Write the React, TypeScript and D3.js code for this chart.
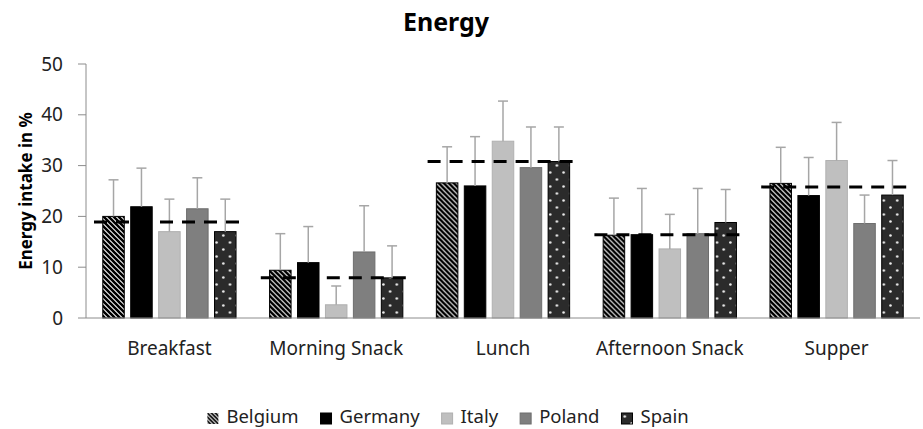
import * as d3 from "d3";

const WIDTH = 923;
const HEIGHT = 429;
const MARGIN = { top: 64, right: 3, bottom: 111, left: 86 };
const FONT = "'Noto Sans', 'Open Sans', sans-serif";

const CATEGORIES = ["Breakfast", "Morning Snack", "Lunch", "Afternoon Snack", "Supper"];
const COUNTRIES = ["Belgium", "Germany", "Italy", "Poland", "Spain"];

// mean energy intake (%) per meal, one array per country
const BELGIUM = [20.0, 9.4, 26.6, 16.3, 26.5];
const GERMANY = [21.9, 10.9, 26.0, 16.4, 24.1];
const ITALY = [17.0, 2.6, 34.8, 13.6, 31.0];
const POLAND = [21.5, 13.0, 29.6, 16.6, 18.6];
const SPAIN = [17.0, 7.9, 30.8, 18.8, 24.2];

// upper error bar (SD) per meal
const BELGIUM_SD = [7.2, 7.2, 7.1, 7.3, 7.1];
const GERMANY_SD = [7.6, 7.1, 9.7, 9.1, 7.5];
const ITALY_SD = [6.4, 3.7, 7.9, 6.8, 7.5];
const POLAND_SD = [6.1, 9.1, 8.0, 8.9, 5.6];
const SPAIN_SD = [6.4, 6.3, 6.8, 6.5, 6.8];

// overall mean across the five countries (dashed line)
const OVERALL = [18.9, 7.9, 30.8, 16.4, 25.8];

const Y_TICKS = [0, 10, 20, 30, 40, 50];

const VALUES = [BELGIUM, GERMANY, ITALY, POLAND, SPAIN];
const SDS = [BELGIUM_SD, GERMANY_SD, ITALY_SD, POLAND_SD, SPAIN_SD];

const FILLS = ["url(#stripes)", "#000000", "#bfbfbf", "#7f7f7f", "url(#dots)"];
const STROKES = ["#000000", "#000000", "#b0b0b0", "#6e6e6e", "#000000"];

const INNER_W = WIDTH - MARGIN.left - MARGIN.right;
const INNER_H = HEIGHT - MARGIN.top - MARGIN.bottom;

function measure(text: string, font: string): number {
  const ctx = document.createElement("canvas").getContext("2d");
  if (!ctx) return text.length * 10;
  ctx.font = font;
  return ctx.measureText(text).width;
}

export default function App() {
  const x0 = d3.scaleBand<string>().domain(CATEGORIES).range([0, INNER_W]).padding(0);
  const x1 = d3
    .scaleBand<string>()
    .domain(COUNTRIES)
    .range([0, x0.bandwidth()])
    .paddingInner(0.23)
    .paddingOuter(0.6);
  const y = d3.scaleLinear().domain([0, 50]).range([INNER_H, 0]);

  // legend layout from measured text widths
  const legendSize = 18.5;
  const legendFont = `${legendSize}px ${FONT}`;
  const SW = 11;
  const items = COUNTRIES.map((c) => ({ c, w: SW + 8 + measure(c, legendFont) }));
  const GAP = 22;
  const total = d3.sum(items, (d) => d.w) + GAP * (items.length - 1);
  let cursor = 448 - total / 2;
  const legend = items.map((d) => {
    const pos = { ...d, x: cursor };
    cursor += d.w + GAP;
    return pos;
  });

  return (
    <svg
      width={WIDTH}
      height={HEIGHT}
      style={{ position: "absolute", left: 0, top: 0, background: "#fff" }}
      fontFamily={FONT}
    >
      <defs>
        <pattern id="stripes" patternUnits="userSpaceOnUse" width="5" height="5">
          <rect width="5" height="5" fill="#fff" />
          <path d="M-1,-1 L6,6 M-1,4 L1,6 M4,-1 L6,1" stroke="#000" strokeWidth="2.6" />
        </pattern>
        <pattern id="dots" patternUnits="userSpaceOnUse" width="13.4" height="14">
          <rect width="13.4" height="14" fill="#2b2b2b" />
          <circle cx="3.3" cy="3.5" r="1.3" fill="#ededed" />
          <circle cx="10" cy="10.5" r="1.3" fill="#ededed" />
        </pattern>
        <pattern id="stripesSmall" patternUnits="userSpaceOnUse" width="4" height="4">
          <rect width="4" height="4" fill="#fff" />
          <path d="M-1,-1 L5,5 M-1,3 L1,5 M3,-1 L5,1" stroke="#000" strokeWidth="1.8" />
        </pattern>
      </defs>

      <text x={446} y={31} textAnchor="middle" fontSize={25} fontWeight="bold" fill="#000">
        Energy
      </text>

      <text
        transform={`translate(32, ${MARGIN.top + INNER_H / 2}) rotate(-90)`}
        textAnchor="middle"
        fontSize={17}
        fontWeight="bold"
        fill="#000"
      >
        Energy intake in %
      </text>

      <g transform={`translate(${MARGIN.left},${MARGIN.top})`}>
        {/* y axis */}
        <line x1={0} x2={0} y1={y(0)} y2={y(50)} stroke="#8c8c8c" strokeWidth={1} />
        {Y_TICKS.map((t) => (
          <g key={t}>
            <line x1={-8} x2={0} y1={y(t)} y2={y(t)} stroke="#8c8c8c" strokeWidth={1} />
            <text x={-23} y={y(t)} dy="0.35em" textAnchor="end" fontSize={19} fill="#222">
              {t}
            </text>
          </g>
        ))}

        {/* bars */}
        {CATEGORIES.map((cat, ci) => (
          <g key={cat} transform={`translate(${x0(cat)},0)`}>
            {COUNTRIES.map((c, si) => {
              const v = VALUES[si][ci];
              const bx = x1(c) ?? 0;
              const bw = x1.bandwidth();
              return (
                <rect
                  key={c}
                  x={bx}
                  y={y(v)}
                  width={bw}
                  height={y(0) - y(v)}
                  fill={FILLS[si]}
                  stroke={STROKES[si]}
                  strokeWidth={1}
                />
              );
            })}
            {COUNTRIES.map((c, si) => {
              const v = VALUES[si][ci];
              const top = v + SDS[si][ci];
              const cx = (x1(c) ?? 0) + x1.bandwidth() / 2;
              return (
                <g key={c} stroke="#a6a6a6" strokeWidth={1.5}>
                  <line x1={cx} x2={cx} y1={y(v)} y2={y(top)} />
                  <line x1={cx - 5} x2={cx + 5} y1={y(top)} y2={y(top)} />
                </g>
              );
            })}
            <line
              x1={8}
              x2={x0.bandwidth() - 8}
              y1={y(OVERALL[ci])}
              y2={y(OVERALL[ci])}
              stroke="#000"
              strokeWidth={3}
              strokeDasharray="13,9"
            />
            <text
              x={x0.bandwidth() / 2}
              y={INNER_H + 37}
              textAnchor="middle"
              fontSize={19}
              fill="#222"
            >
              {cat}
            </text>
          </g>
        ))}

        {/* x axis */}
        <line x1={0} x2={INNER_W} y1={y(0)} y2={y(0)} stroke="#8c8c8c" strokeWidth={1} />
      </g>

      {/* legend */}
      <g>
        {legend.map((d, i) => (
          <g key={d.c} transform={`translate(${d.x},413)`}>
            <rect
              width={SW}
              height={SW}
              fill={i === 0 ? "url(#stripesSmall)" : FILLS[i]}
              stroke={i === 0 ? "none" : STROKES[i]}
              strokeWidth={1}
            />
            <text x={SW + 8} y={10} fontSize={legendSize} fill="#222">
              {d.c}
            </text>
          </g>
        ))}
      </g>
    </svg>
  );
}
